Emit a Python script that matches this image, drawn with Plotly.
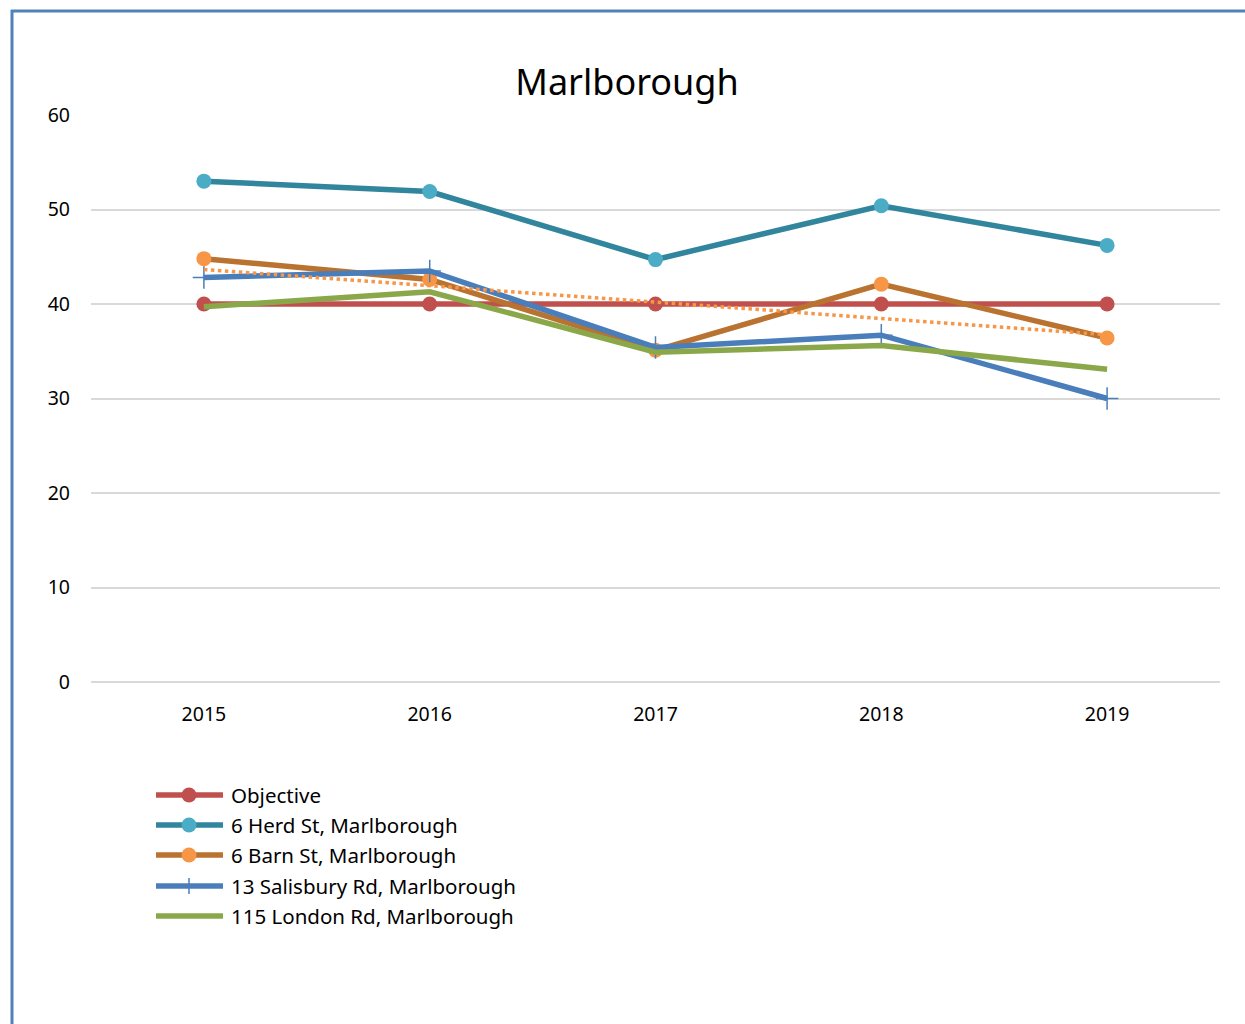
import numpy as np
import plotly.graph_objects as go

# ---- data -------------------------------------------------------------
years = ["2015", "2016", "2017", "2018", "2019"]
objective = [40, 40, 40, 40, 40]
herd_st = [53.0, 51.9, 44.7, 50.4, 46.2]
barn_st = [44.8, 42.6, 35.1, 42.1, 36.4]
salisbury_rd = [42.8, 43.5, 35.4, 36.7, 30.0]
london_rd = [39.7, 41.3, 34.9, 35.6, 33.1]

series_names = [
    "Objective",
    "6 Herd St, Marlborough",
    "6 Barn St, Marlborough",
    "13 Salisbury Rd, Marlborough",
    "115 London Rd, Marlborough",
]
y_ticks = [0, 10, 20, 30, 40, 50, 60]

# ---- styling -------------------------------------------------------------
W, H = 1245, 1024
ML, MR, MT, MB = 91, 25, 115, 342
FONT = "Noto Sans"

line_colors = ["#C0504D", "#31859C", "#B9722F", "#4A7EBB", "#8AA84A"]
marker_colors = ["#C0504D", "#4BACC6", "#F79646", "#4A7EBB", "#8AA84A"]
markers = ["circle", "circle", "circle", "cross-thin", None]

fig = go.Figure()

all_values = [objective, herd_st, barn_st, salisbury_rd, london_rd]
for name, vals, lc, mc, sym in zip(series_names, all_values, line_colors, marker_colors, markers):
    if sym == "circle":
        mode = "lines+markers"
        marker = dict(symbol="circle", size=15, color=mc)
    elif sym == "cross-thin":
        mode = "lines+markers"
        marker = dict(symbol="cross-thin", size=16, color=mc, line=dict(color=mc, width=1.5))
    else:
        mode = "lines"
        marker = None
    fig.add_trace(go.Scatter(
        x=years, y=vals, name=name, mode=mode,
        line=dict(color=lc, width=5.5),
        marker=marker, showlegend=False, hoverinfo="skip",
    ))

# linear trend of the Barn St series, dotted
xi = np.arange(len(years))
slope, intercept = np.polyfit(xi, barn_st, 1)
trend = intercept + slope * xi
fig.add_trace(go.Scatter(
    x=years, y=trend, mode="lines", showlegend=False, hoverinfo="skip",
    line=dict(color="#F79646", width=3.5, dash="dot"),
))

# ---- pixel -> paper helpers -------------------------------------------
pw, ph = W - ML - MR, H - MT - MB


def px(x):
    return (x - ML) / pw


def py(y):
    return (H - MB - y) / ph


shapes = []
annotations = []

# outer frame (left and top edges)
frame_color = "#4F81BD"
shapes.append(dict(type="line", xref="paper", yref="paper",
                   x0=px(12), x1=px(12), y0=py(10), y1=py(H + 2),
                   line=dict(color=frame_color, width=3)))
shapes.append(dict(type="line", xref="paper", yref="paper",
                   x0=px(11), x1=px(W + 2), y0=py(11), y1=py(11),
                   line=dict(color=frame_color, width=3)))

# legend block drawn under the plot
leg_y = [795, 825, 855, 886, 916]
for name, lc, mc, sym, yy in zip(series_names, line_colors, marker_colors, markers, leg_y):
    shapes.append(dict(type="line", xref="paper", yref="paper",
                       x0=px(156), x1=px(223), y0=py(yy), y1=py(yy),
                       line=dict(color=lc, width=5.5)))
    if sym == "circle":
        shapes.append(dict(type="circle", xref="paper", yref="paper",
                           xsizemode="pixel", ysizemode="pixel",
                           xanchor=px(189), yanchor=py(yy),
                           x0=-7.5, x1=7.5, y0=-7.5, y1=7.5,
                           fillcolor=mc, line=dict(width=0)))
    elif sym == "cross-thin":
        shapes.append(dict(type="line", xref="paper", yref="paper",
                           xsizemode="pixel", ysizemode="pixel",
                           xanchor=px(189), yanchor=py(yy),
                           x0=0, x1=0, y0=-8, y1=8,
                           line=dict(color=mc, width=1.5)))
    annotations.append(dict(xref="paper", yref="paper", x=px(229), y=py(yy),
                            xanchor="left", yanchor="middle", showarrow=False,
                            text=name, font=dict(family=FONT, size=20.5, color="#000000")))

fig.update_layout(
    width=W, height=H,
    margin=dict(l=ML, r=MR, t=MT, b=MB),
    paper_bgcolor="white", plot_bgcolor="white",
    title=dict(text="Marlborough", x=627 / W, xref="container", xanchor="center",
               y=1 - 82 / H, yref="container", yanchor="middle",
               font=dict(family=FONT, size=36, color="#000000")),
    font=dict(family=FONT, color="#000000"),
    xaxis=dict(type="category", range=[-0.5, len(years) - 0.5],
               showgrid=False, showline=False, zeroline=False,
               tickfont=dict(family=FONT, size=19.5, color="#000000"),
               ticks="", ticklabelstandoff=18),
    yaxis=dict(range=[0, 60], tickvals=y_ticks, showgrid=True,
               gridcolor="#D9D9D9", gridwidth=1.5, zeroline=True,
               zerolinecolor="#D9D9D9", zerolinewidth=1.5, showline=False,
               tickfont=dict(family=FONT, size=19.5, color="#000000"),
               ticks="", ticklabelstandoff=20),
    shapes=shapes,
    annotations=annotations,
    showlegend=False,
)

fig.write_html("out.html")
